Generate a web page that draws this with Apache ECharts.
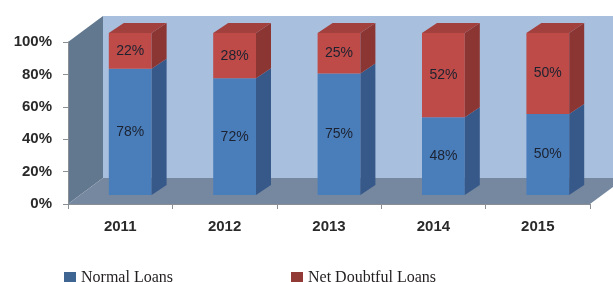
<!DOCTYPE html>
<html>
<head>
<meta charset="utf-8">
<script src="https://cdn.jsdelivr.net/npm/echarts@6/dist/echarts.min.js"></script>
<style>
  html, body { margin: 0; padding: 0; background: #fff; }
  #chart { width: 613px; height: 282px; }
</style>
</head>
<body>
<div id="chart"></div>
<script>
var years = ['2011', '2012', '2013', '2014', '2015'];
var normalLoans = [78, 72, 75, 48, 50];
var doubtfulLoans = [22, 28, 25, 52, 50];
var yTicks = [0, 20, 40, 60, 80, 100];

var chart = echarts.init(document.getElementById('chart'));

// 3d look: wall depth and bar offsets, in pixels
var WALL_DX = 35, WALL_DY = -26;
var BAR_OX = 10, BAR_OY = -9;
var BAR_DX = 15, BAR_DY = -10;

function wallsItem(params, api) {
    var cs = params.coordSys;
    var x = cs.x, y = cs.y, w = cs.width, h = cs.height, yb = y + h;
    return {
	type: 'group',
	children: [
	    { type: 'rect', shape: { x: x + WALL_DX, y: y + WALL_DY, width: w, height: h },
	      style: { fill: '#a8bfdd' } },
	    { type: 'polygon', shape: { points: [[x, y], [x + WALL_DX, y + WALL_DY], [x + WALL_DX, yb + WALL_DY], [x, yb]] },
	      style: { fill: '#62788f' } },
	    { type: 'polygon', shape: { points: [[x, yb], [x + WALL_DX, yb + WALL_DY], [x + w + WALL_DX, yb + WALL_DY], [x + w, yb]] },
	      style: { fill: '#76889f' } }
	]
    };
}

function barItem(colors, isTop) {
    return function(params, api) {
	var i = api.value(0), lo = api.value(1), hi = api.value(2), v = api.value(3);
	var band = api.size([1, 0])[0];
	var p0 = api.coord([i, lo]);
	var p1 = api.coord([i, hi]);
	var bw = band * 0.41;
	var left = p0[0] - bw / 2 + BAR_OX, right = left + bw;
	var yb = p0[1] + BAR_OY, yt = p1[1] + BAR_OY;
	var kids = [
	    { type: 'rect', shape: { x: left, y: yt, width: bw, height: yb - yt },
	      style: { fill: colors[0] } },
	    { type: 'polygon', shape: { points: [[right, yt], [right + BAR_DX, yt + BAR_DY], [right + BAR_DX, yb + BAR_DY], [right, yb]] },
	      style: { fill: colors[1] } }
	];
	if (isTop) {
	    kids.push({ type: 'polygon', shape: { points: [[left, yt], [left + BAR_DX, yt + BAR_DY], [right + BAR_DX, yt + BAR_DY], [right, yt]] },
			style: { fill: colors[2] } });
	}
	kids.push({ type: 'text', style: { text: v + '%', x: left + bw / 2, y: (yt + yb) / 2,
					   align: 'center', verticalAlign: 'middle',
					   font: '14px "Liberation Sans"', fill: '#1c2230' } });
	return { type: 'group', children: kids };
    };
}

var normalData = [], doubtfulData = [];
for (var i = 0; i < years.length; i++) {
    normalData.push([i, 0, normalLoans[i], normalLoans[i]]);
    doubtfulData.push([i, normalLoans[i], normalLoans[i] + doubtfulLoans[i], doubtfulLoans[i]]);
}

chart.setOption({
    animation: false,
    grid: { left: 68, right: 23, top: 42, bottom: 78 },
    legend: [
	{ left: 59, top: 265, itemWidth: 12, itemHeight: 12, itemGap: 8, icon: 'rect',
	  textStyle: { fontFamily: 'Liberation Serif', fontSize: 16, color: '#231f20' },
	  data: [{ name: 'Normal Loans', itemStyle: { color: '#3f6592' } }] },
	{ left: 286, top: 265, itemWidth: 12, itemHeight: 12, itemGap: 8, icon: 'rect',
	  textStyle: { fontFamily: 'Liberation Serif', fontSize: 16, color: '#231f20' },
	  data: [{ name: 'Net Doubtful Loans', itemStyle: { color: '#913a36' } }] }
    ],
    xAxis: {
	type: 'category',
	data: years,
	z: 5,
	axisLine: { lineStyle: { color: '#8a8f96' } },
	axisTick: { show: true, length: 5, lineStyle: { color: '#8a8f96' } },
	axisLabel: { margin: 15, fontFamily: 'Liberation Sans', fontWeight: 'bold', fontSize: 15, color: '#2a2a2a' }
    },
    yAxis: {
	type: 'value',
	min: yTicks[0],
	max: yTicks[yTicks.length - 1],
	interval: 20,
	z: 5,
	splitLine: { show: false },
	axisLine: { show: true, lineStyle: { color: '#8a8f96' } },
	axisTick: { show: true, length: 5, lineStyle: { color: '#8a8f96' } },
	axisLabel: { margin: 16, formatter: '{value}%', fontFamily: 'Liberation Sans', fontWeight: 'bold', fontSize: 15, color: '#2a2a2a' }
    },
    series: [
	{ name: 'walls', type: 'custom', renderItem: wallsItem, data: [[0, 0]], z: 1, silent: true },
	{ name: 'Normal Loans', type: 'custom', renderItem: barItem(['#4a7ebb', '#37598a', '#4170a8'], false),
	  itemStyle: { color: '#4a7ebb' }, encode: { x: 0, y: [1, 2] }, data: normalData, z: 2 },
	{ name: 'Net Doubtful Loans', type: 'custom', renderItem: barItem(['#be4b48', '#8c3634', '#a2403d'], true),
	  itemStyle: { color: '#be4b48' }, encode: { x: 0, y: [1, 2] }, data: doubtfulData, z: 3 }
    ]
});
</script>
</body>
</html>
